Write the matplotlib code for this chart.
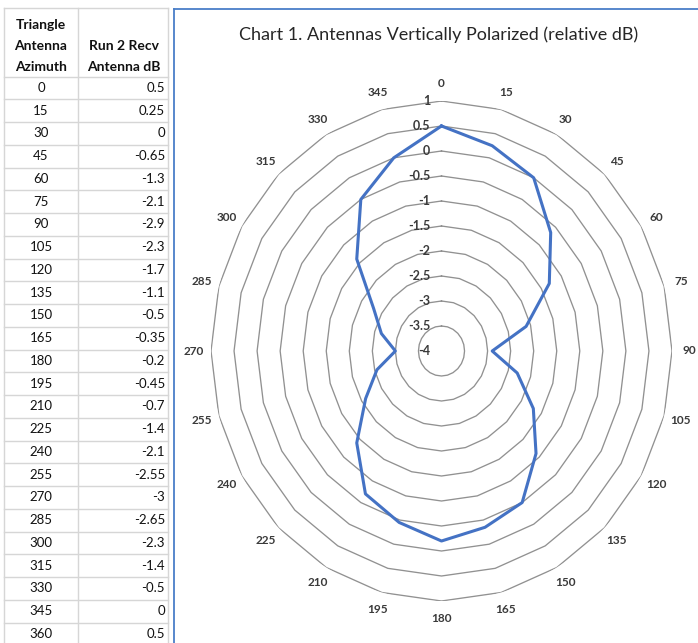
import numpy as np
import matplotlib.pyplot as plt
from matplotlib.transforms import offset_copy

plt.rcParams['font.family'] = ['Lato', 'DejaVu Sans']

# data from the sheet
azimuth = [0, 15, 30, 45, 60, 75, 90, 105, 120, 135, 150, 165, 180,
           195, 210, 225, 240, 255, 270, 285, 300, 315, 330, 345, 360]
run2_db = [0.5, 0.25, 0, -0.65, -1.3, -2.1, -2.9, -2.3, -1.7, -1.1, -0.5, -0.35, -0.2,
           -0.45, -0.7, -1.4, -2.1, -2.55, -3, -2.65, -2.3, -1.4, -0.5, 0, 0.5]
db_levels = [-4, -3.5, -3, -2.5, -2, -1.5, -1, -0.5, 0, 0.5, 1]
db_labels = ['-4', '-3.5', '-3', '-2.5', '-2', '-1.5', '-1', '-0.5', '0', '0.5', '1']

W, H = 698, 643
fig = plt.figure(figsize=(W / 100, H / 100), dpi=100)
fig.patch.set_facecolor('white')

# background axes in pixel coords for the spreadsheet part
bg = fig.add_axes([0, 0, 1, 1])
bg.set_xlim(0, W)
bg.set_ylim(H, 0)
bg.axis('off')

grid_c = '#D6D6D6'
txt_c = '#111111'
col_l, col_m, col_r = 4, 78, 168
head_top = 8
row_top = 76.6
row_h = 22.75

# table grid
for x in [col_l, col_m, col_r]:
    bg.plot([x, x], [head_top, H], color=grid_c, lw=1)
bg.plot([col_l, col_r], [head_top, head_top], color=grid_c, lw=1)
for i in range(len(azimuth) + 1):
    y = row_top + i * row_h
    bg.plot([col_l, col_r], [y, y], color=grid_c, lw=1)

# headers
for j, s in enumerate(['Triangle', 'Antenna', 'Azimuth']):
    bg.text((col_l + col_m) / 2, 25 + j * 21, s, ha='center', va='center',
            fontsize=10, fontweight='bold', color=txt_c)
for j, s in enumerate(['Run 2 Recv', 'Antenna dB']):
    bg.text((col_m + col_r) / 2 + 1, 46 + j * 21, s, ha='center', va='center',
            fontsize=10, fontweight='bold', color=txt_c)

# rows
for i, (a, v) in enumerate(zip(azimuth, run2_db)):
    y = row_top + (i + 0.5) * row_h
    bg.text((col_l + col_m) / 2, y, f'{a:g}', ha='center', va='center',
            fontsize=9.5, color=txt_c)
    bg.text(col_r - 3, y, f'{v:g}', ha='right', va='center',
            fontsize=9.5, color=txt_c)

# chart area border (selected chart)
bg.plot([174, 174], [9, H], color='#4A7EC8', lw=1.3)
bg.plot([174, W], [9, 9], color='#4A7EC8', lw=1.3)

# title
bg.text(439, 35, 'Chart 1. Antennas Vertically Polarized (relative dB)',
        ha='center', va='center', fontsize=13, color='#262626')

# radar chart
cx, cy, rx, ry = 441.5, 351, 230.5, 250
ax = fig.add_axes([(cx - rx) / W, 1 - (cy + ry) / H, 2 * rx / W, 2 * ry / H],
                  projection='polar')
ax.set_aspect('auto')
ax.set_facecolor('none')
ax.set_theta_zero_location('N')
ax.set_theta_direction(-1)
ax.set_ylim(db_levels[0], db_levels[-1])

cats = azimuth[:-1]
theta = np.deg2rad(cats)
theta_closed = np.append(theta, theta[0])

# polygon gridlines like excel
for lev in db_levels[1:]:
    ax.plot(theta_closed, [lev] * len(theta_closed), color='#919191', lw=0.95, zorder=1)

vals = run2_db[:-1]
ax.plot(theta_closed, vals + [vals[0]], color='#4472C4', lw=2.2, zorder=3)

ax.grid(False)
ax.spines['polar'].set_visible(False)
ax.set_yticks([])
ax.set_xticks(theta)
ax.set_xticklabels([str(c) for c in cats], fontsize=8.5, fontweight='bold', color='#3a3a3a')
ax.tick_params(axis='x', pad=2)

lab_tr = offset_copy(ax.transData, fig=fig, x=-8, y=0, units='points')
for lev, lab in zip(db_levels, db_labels):
    ax.text(0, lev, lab, transform=lab_tr, ha='right', va='center',
            fontsize=9, fontweight='bold', color='#3a3a3a', zorder=4)

fig.savefig('out.png', dpi=100)
